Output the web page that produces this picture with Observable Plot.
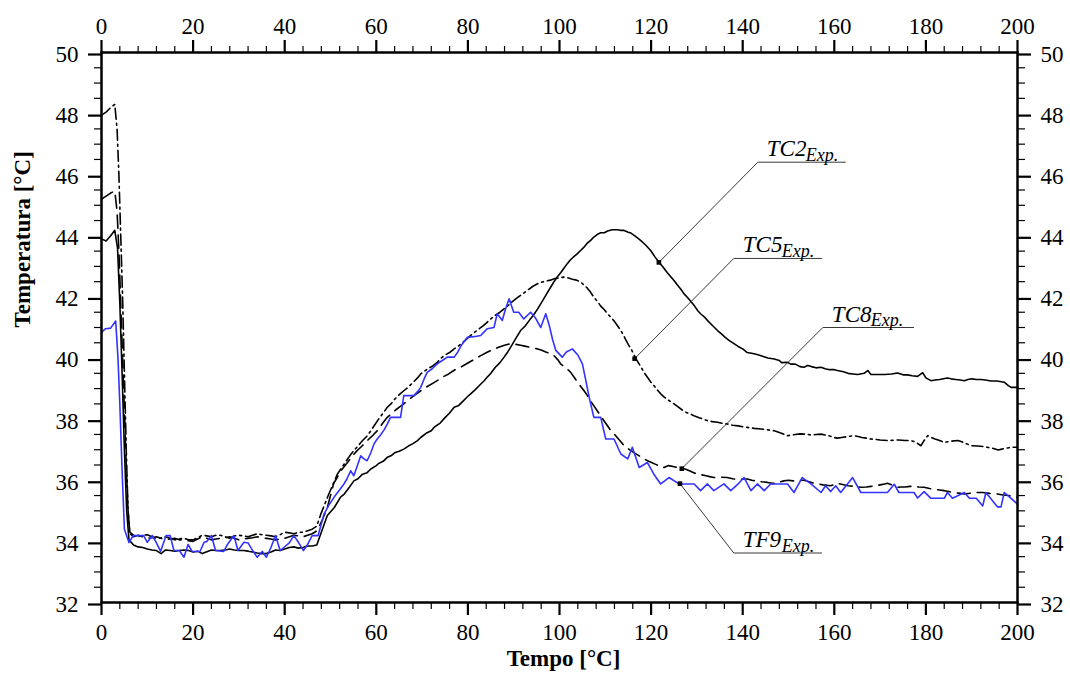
<!DOCTYPE html>
<html><head><meta charset="utf-8">
<script src="https://cdn.jsdelivr.net/npm/d3@7"></script>
<script src="https://cdn.jsdelivr.net/npm/@observablehq/plot@0.6"></script>
<style>body{margin:0;background:#fff}#chart svg{display:block}</style>
</head><body><div id="chart"></div>
<script>
// ---- tick values ----
const xMajor = [0, 20, 40, 60, 80, 100, 120, 140, 160, 180, 200];
const yMajor = [32, 34, 36, 38, 40, 42, 44, 46, 48, 50];
const xMinorStep = 4;
const yMinorStep = 0.5;

// ---- series [tempo, temperatura] ----
const tc2 = [[0,43.9],[1,43.83],[2,44.0],[2.9,44.18],[3.5,43.6],[4,41.8],[4.5,39.5],[5,37.0],[5.5,35.0],[6,34.05],[7,33.88],[8,33.82],[9,33.8],[10,33.75],[11,33.72],[12,33.7],[13,33.6],[14,33.72],[15,33.7],[16,33.68],[17,33.7],[18,33.72],[19,33.7],[20,33.65],[21,33.68],[22,33.6],[23,33.66],[24,33.72],[25,33.7],[26,33.7],[27,33.72],[28,33.75],[29,33.72],[30,33.7],[31,33.7],[32,33.68],[33,33.65],[34,33.62],[35,33.6],[36,33.6],[37,33.65],[38,33.72],[39,33.7],[40,33.75],[41,33.8],[42,33.82],[43,33.78],[44,33.8],[45,33.85],[46,33.85],[47,33.88],[48,34.3],[49.3,34.85],[50.8,35.1],[52.2,35.45],[53,35.55],[54,35.75],[55.1,35.98],[56,36.05],[57,36.2],[58,36.25],[58.8,36.37],[60,36.48],[60.5,36.55],[61.5,36.62],[62.4,36.75],[63.2,36.8],[64,36.9],[65,36.95],[66,37.02],[67,37.12],[68,37.2],[69,37.3],[69.7,37.4],[71,37.55],[72,37.62],[72.6,37.73],[74,37.88],[75,38.05],[76,38.2],[77,38.39],[78,38.45],[79,38.6],[80,38.75],[80.6,38.83],[81.5,38.95],[82.5,39.1],[83.5,39.25],[84.2,39.37],[85,39.5],[86,39.7],[87,39.85],[87.9,40.03],[88.7,40.2],[89.5,40.4],[90.5,40.65],[91.5,40.9],[92.5,41.05],[93.5,41.25],[94.3,41.4],[95.2,41.6],[96,41.8],[97,42.05],[98,42.3],[98.8,42.5],[99.5,42.65],[100.3,42.8],[101,42.95],[101.7,43.09],[102.3,43.2],[103,43.3],[103.8,43.4],[104.6,43.52],[105.3,43.62],[106,43.75],[106.8,43.85],[107.5,43.96],[108.3,44.05],[109,44.1],[109.8,44.1],[110.5,44.16],[111.5,44.2],[112.6,44.2],[113.3,44.18],[114,44.18],[115,44.12],[115.6,44.09],[116.6,43.98],[117.7,43.85],[118.8,43.7],[119.9,43.52],[120.8,43.32],[121.7,43.14],[122.6,42.98],[123.5,42.8],[124.2,42.68],[125,42.54],[125.7,42.4],[126.5,42.25],[127.2,42.1],[127.9,41.99],[128.7,41.85],[129.5,41.7],[130.2,41.55],[130.8,41.45],[131.6,41.35],[132.5,41.2],[133.5,41.05],[134.5,40.9],[135.3,40.8],[136,40.7],[137,40.58],[138.1,40.47],[139,40.38],[140,40.3],[141,40.18],[142.5,40.14],[143.5,40.1],[144.5,40.05],[145.5,40.0],[146.9,39.97],[148,39.92],[148.5,39.85],[149.8,39.86],[150.5,39.8],[151.5,39.8],[152.5,39.72],[153.4,39.7],[154.2,39.76],[155,39.72],[156,39.68],[157.1,39.7],[158,39.65],[159,39.62],[160,39.62],[160.7,39.59],[162,39.55],[163,39.5],[164,39.48],[165.1,39.46],[166.5,39.5],[167.3,39.59],[168,39.46],[169.5,39.46],[171,39.46],[172.5,39.48],[173.8,39.51],[175,39.45],[176,39.45],[177,39.42],[178.2,39.4],[179.3,39.52],[180,39.35],[181.1,39.26],[182,39.28],[183,39.3],[184.7,39.35],[185.5,39.32],[186.5,39.3],[187.5,39.28],[188.4,39.26],[189.2,39.3],[190,39.32],[191,39.3],[192,39.3],[193,39.28],[194.2,39.25],[195.5,39.25],[197.1,39.21],[198,39.1],[198.6,39.04],[200,39.04]];

const tc5 = [[0,47.95],[1,48.05],[2,48.2],[2.9,48.3],[3.4,47.5],[3.8,46.0],[4.2,44.0],[4.6,42.0],[5,39.5],[5.4,37.0],[5.8,35.0],[6.2,34.3],[7,34.2],[8,34.15],[9,34.2],[10,34.22],[11,34.15],[12,34.1],[13,34.12],[14,34.15],[15,34.1],[16,34.05],[17,34.08],[18,34.1],[19,34.05],[20,34.05],[21,34.12],[22,34.2],[23,34.18],[24,34.15],[25,34.2],[26,34.2],[27,34.15],[28,34.1],[29,34.18],[30,34.2],[31,34.18],[32,34.15],[33,34.2],[34,34.25],[35,34.22],[36,34.2],[37,34.18],[38,34.15],[39,34.22],[40,34.3],[41,34.28],[42,34.25],[43,34.3],[44,34.3],[45,34.35],[46,34.4],[47,34.5],[47.9,34.9],[48.7,35.2],[49.5,35.5],[50.5,35.85],[51.5,36.2],[52.4,36.4],[53.3,36.6],[54.2,36.8],[55.1,36.97],[56,37.12],[57,37.3],[58,37.45],[58.8,37.62],[59.6,37.8],[60.5,38.0],[61.5,38.2],[62.4,38.39],[63.2,38.5],[64,38.65],[65,38.8],[66,38.93],[67,39.05],[68,39.2],[69,39.35],[69.7,39.48],[70.6,39.58],[71.5,39.67],[72.4,39.75],[73.3,39.86],[74.2,40.0],[75,40.1],[76,40.18],[77,40.3],[78,40.4],[78.8,40.5],[79.7,40.62],[80.6,40.74],[81.5,40.85],[82.4,40.95],[83.3,41.05],[84.2,41.17],[85,41.28],[86,41.4],[87,41.5],[87.9,41.61],[88.8,41.72],[89.7,41.85],[90.6,41.95],[91.5,42.05],[92.4,42.15],[93.3,42.25],[94.2,42.35],[95.2,42.43],[96,42.48],[97,42.52],[98,42.55],[99,42.6],[100,42.63],[101,42.65],[102,42.62],[102.8,42.58],[103.7,42.55],[104.6,42.49],[105.3,42.4],[106,42.3],[106.8,42.15],[107.5,41.99],[108.3,41.85],[109,41.7],[109.8,41.58],[110.5,41.45],[111.3,41.32],[112,41.2],[112.7,41.05],[113.4,40.9],[114.2,40.68],[115,40.45],[115.8,40.25],[116.5,40.03],[117.2,39.85],[118,39.65],[118.6,39.5],[119.2,39.37],[119.9,39.22],[120.6,39.1],[121.4,38.95],[122.1,38.83],[122.8,38.73],[123.5,38.65],[124.2,38.58],[125,38.5],[125.9,38.4],[126.8,38.3],[127.7,38.22],[128.6,38.17],[129.5,38.1],[130.5,38.05],[131.4,38.0],[132.3,37.95],[133.4,37.92],[134.5,37.9],[135.6,37.86],[136.7,37.84],[137.8,37.8],[139,37.78],[140,37.75],[141,37.73],[142.5,37.7],[144,37.68],[145.5,37.65],[146.9,37.62],[148.3,37.55],[149.8,37.46],[150.7,37.48],[151.5,37.5],[152.5,37.52],[153.4,37.51],[154.2,37.5],[155,37.48],[156,37.5],[157.1,37.51],[158,37.48],[159,37.45],[160,37.4],[160.7,37.38],[161.6,37.4],[162.5,37.42],[163.4,37.44],[164.3,37.46],[165.2,37.43],[166,37.4],[167,37.38],[168,37.35],[169,37.34],[170,37.32],[171.6,37.3],[173,37.31],[174,37.32],[175.5,37.3],[176.7,37.3],[177.8,37.25],[178.9,37.13],[179.6,37.3],[180.4,37.46],[181.2,37.4],[182,37.35],[183,37.3],[184,37.24],[185.5,37.28],[187,37.3],[188,37.25],[188.8,37.2],[190,37.13],[191.3,37.12],[192.8,37.1],[193.7,37.07],[194.5,37.05],[195.8,36.99],[196.6,37.02],[197.5,37.05],[198.7,37.08],[200,37.08]];

const tc8 = [[0,45.2],[1,45.3],[2,45.4],[2.9,45.47],[3.4,44.8],[3.8,43.5],[4.2,41.8],[4.6,40.0],[5,38.3],[5.4,36.5],[5.8,35.0],[6.2,34.25],[7,34.15],[8,34.2],[9,34.15],[10,34.1],[11,34.12],[12,34.15],[13,34.1],[14,34.05],[15,34.08],[16,34.1],[17,34.05],[18,34.05],[19,34.02],[20,34.0],[21,34.08],[22,34.15],[23,34.1],[24,34.05],[25,34.08],[26,34.1],[27,34.12],[28,34.15],[29,34.1],[30,34.05],[31,34.08],[32,34.1],[33,34.12],[34,34.15],[35,34.12],[36,34.1],[37,34.08],[38,34.05],[39,34.08],[40,34.1],[41,34.15],[42,34.2],[43,34.18],[44,34.15],[45,34.2],[46,34.25],[47.1,34.35],[48.2,34.7],[49.3,35.1],[50,35.5],[50.7,35.9],[51.5,36.1],[52.2,36.3],[53,36.45],[53.7,36.58],[54.4,36.72],[55.1,36.85],[55.8,36.97],[56.6,37.08],[57.5,37.22],[58.4,37.35],[59.3,37.48],[60.2,37.62],[61.3,37.85],[62.4,38.06],[63.3,38.18],[64.2,38.3],[65.1,38.4],[66,38.5],[66.9,38.62],[67.8,38.72],[68.7,38.82],[69.7,38.93],[70.6,39.02],[71.5,39.1],[72.4,39.18],[73.3,39.26],[74.5,39.38],[75.8,39.48],[77,39.6],[78.4,39.7],[79.8,39.82],[81.3,39.95],[82.7,40.07],[84.2,40.19],[85.5,40.28],[86.7,40.35],[88,40.42],[89.3,40.47],[90.4,40.45],[91.5,40.42],[92.4,40.39],[93.3,40.36],[94.2,40.33],[95.2,40.3],[96,40.26],[97,40.2],[98,40.15],[98.8,40.08],[99.6,39.95],[100.3,39.8],[101.2,39.7],[102,39.6],[102.6,39.5],[103.2,39.37],[103.9,39.22],[104.6,39.08],[105.4,38.92],[106.1,38.77],[107,38.55],[107.9,38.35],[108.8,38.15],[109.7,37.95],[110.4,37.8],[111.1,37.65],[111.9,37.52],[112.6,37.4],[113.3,37.28],[114,37.15],[114.8,37.05],[115.6,36.97],[116.5,36.88],[117.4,36.8],[118.3,36.72],[119.2,36.64],[120.1,36.58],[121,36.52],[121.9,36.46],[122.8,36.42],[123.8,36.48],[124.8,36.45],[125.8,36.42],[126.8,36.4],[127.7,36.35],[128.5,36.3],[129.3,36.25],[130.1,36.2],[131,36.18],[132,36.15],[132.8,36.12],[133.7,36.09],[135.1,36.1],[136.6,36.09],[137.8,36.05],[139,36.02],[140,36.04],[141,36.04],[142,36.0],[143,35.98],[144.2,35.95],[145.4,35.93],[146.5,35.9],[147.5,35.9],[148.3,35.95],[149,35.98],[150,36.0],[151,35.98],[152.2,36.0],[153.4,36.0],[154.5,35.95],[155.6,35.9],[156.5,35.88],[157.5,35.85],[158.3,35.84],[159.2,35.82],[160,35.86],[160.7,35.9],[161.8,35.86],[163,35.82],[164.5,35.8],[165.8,35.77],[167,35.78],[168,35.8],[169,35.82],[170,35.85],[171,35.88],[171.6,35.9],[172.7,35.84],[173.8,35.77],[174.6,35.78],[175.5,35.78],[176.5,35.8],[177.4,35.8],[178.5,35.78],[179.6,35.77],[180.8,35.73],[182,35.7],[183,35.68],[184,35.66],[185,35.63],[186,35.6],[187.2,35.58],[188.4,35.55],[189.8,35.58],[191.3,35.6],[192.4,35.6],[193.5,35.58],[194.5,35.56],[195.6,35.55],[196.8,35.52],[198,35.5],[199,35.47],[200,35.44]];

const tf9 = [[0,40.84],[0.9,40.96],[2,40.98],[3.1,41.21],[3.6,40.0],[4,38.5],[4.5,36.3],[5,34.4],[6,33.96],[6.9,34.19],[9.2,34.19],[10,33.97],[11.1,34.19],[12,33.95],[12.9,33.67],[14.1,34.19],[15,34.19],[15.8,33.7],[17,33.7],[18,33.48],[18.9,33.9],[19.8,33.67],[21.5,33.67],[22.4,33.97],[23,34.0],[24,34.19],[24.9,33.7],[26.7,33.67],[27.5,33.9],[28.9,34.19],[29.8,33.7],[31.1,33.97],[32,33.95],[33,33.7],[34,33.48],[35.1,33.67],[36,33.48],[37,33.8],[38,34.19],[39,33.7],[39.8,33.8],[41,33.95],[42,34.19],[43,33.97],[44.1,33.7],[45,33.9],[46,34.19],[47.3,34.19],[48.6,34.9],[49.7,35.2],[50.8,35.45],[51.8,35.65],[52.9,35.87],[53.6,36.05],[54.4,36.31],[55.1,36.15],[55.8,36.45],[56.6,36.8],[57.3,36.7],[58,36.64],[58.8,36.9],[59.5,37.19],[60.2,37.35],[61,37.5],[61.7,37.65],[62.4,37.84],[63.1,38.06],[64.2,38.06],[65.3,38.06],[66,38.77],[67.1,38.77],[68.2,38.77],[69,38.9],[69.7,39.04],[70.4,39.3],[71.1,39.53],[72.2,39.65],[73.3,39.81],[74.4,39.92],[75.5,40.03],[77,40.03],[77.8,40.2],[78.5,40.4],[79.9,40.68],[81.3,40.7],[82.8,40.74],[83.5,40.85],[84.2,40.96],[85.7,41.0],[86.4,41.45],[87.5,41.23],[88.2,41.6],[89,41.94],[90,41.5],[91.1,41.5],[92.2,41.28],[93.7,41.5],[94.8,41.3],[95.9,41.0],[97,41.45],[97.8,41.05],[98.5,40.6],[99.2,40.25],[100.6,40.03],[101.5,40.2],[102.8,40.3],[104,40.1],[105,39.81],[105.7,39.3],[106.5,38.7],[107.5,38.06],[109,38.06],[110.1,37.35],[111.9,37.35],[113.4,36.86],[114.9,36.7],[115.9,37.08],[117.4,36.42],[119.2,36.58],[120.6,36.2],[122.1,35.88],[123.9,36.09],[126.1,35.88],[129.4,35.88],[130.8,35.66],[132.3,35.88],[133.7,35.66],[135.9,35.88],[137.4,35.66],[139,35.88],[140.3,36.09],[141.8,35.66],[143.2,35.88],[144.7,35.66],[146.1,35.88],[149.8,35.88],[151.2,35.6],[153,36.09],[154.9,35.88],[157.1,35.6],[158.1,35.82],[159.2,35.63],[160.3,35.82],[161.4,35.6],[164,36.09],[165.8,35.6],[171.6,35.6],[173.1,35.87],[174.1,35.6],[177.4,35.6],[178.2,35.42],[179.6,35.63],[181.1,35.41],[184,35.41],[184.7,35.6],[185.8,35.41],[188.4,35.6],[189.5,35.41],[191,35.41],[192.4,35.16],[193.1,35.6],[195.6,35.13],[196.4,35.13],[197.1,35.6],[198.6,35.41],[200,35.22]];

// ---- annotations (data coordinates) ----
const labelNames = ["TC2", "TC5", "TC8", "TF9"];
const labelSub = "Exp.";
const markerT = [121.7, 116.4, 126.7, 126.3];
const markerV = [43.13, 39.98, 36.38, 35.89];
const labelT = [143.3, 138.05, 157.5, 138.05];
const labelV = [46.41, 43.26, 41.0, 33.62];
const labelEndT = [162.5, 157.3, 177.4, 157.3];

const xTitle = "Tempo [°C]";
const yTitle = "Temperatura [°C]";

// ---- build ----
const xMinor = d3.range(0, 200.001, xMinorStep).filter(v => !xMajor.includes(v));
const yMinor = d3.range(32, 50.001, yMinorStep).filter(v => !yMajor.includes(v));
const ann = labelNames.map((n, i) => ({name: n, mt: markerT[i], mv: markerV[i], lt: labelT[i], lv: labelV[i], le: labelEndT[i]}));
const X = d => d[0], Y = d => d[1];
const serif = "'Liberation Serif', 'Times New Roman', serif";

const chart = Plot.plot({
  width: 1070, height: 673,
  marginLeft: 101, marginRight: 53, marginTop: 52, marginBottom: 71,
  x: {domain: [0, 200]},
  y: {domain: [32, 50]},
  style: {fontFamily: serif, fontSize: "23px", background: "#fff", color: "#000"},
  marks: [
    Plot.axisX(xMinor, {anchor: "bottom", tickSize: 7, strokeWidth: 1.2, text: null, label: null}),
    Plot.axisX(xMinor, {anchor: "top", tickSize: 7, strokeWidth: 1.2, text: null, label: null}),
    Plot.axisY(yMinor, {anchor: "left", tickSize: 7, strokeWidth: 1.2, text: null, label: null}),
    Plot.axisY(yMinor, {anchor: "right", tickSize: 7, strokeWidth: 1.2, text: null, label: null}),
    Plot.axisX(xMajor, {anchor: "bottom", tickSize: 13, tickPadding: 8, strokeWidth: 2.2, fontSize: 23, label: null, tickFormat: d3.format("d")}),
    Plot.axisX(xMajor, {anchor: "top", tickSize: 13, tickPadding: 6, strokeWidth: 2.2, fontSize: 23, label: null, tickFormat: d3.format("d")}),
    Plot.axisY(yMajor, {anchor: "left", tickSize: 13, tickPadding: 10, strokeWidth: 2.2, fontSize: 23, label: null, dy: 2, tickFormat: d3.format("d")}),
    Plot.axisY(yMajor, {anchor: "right", tickSize: 13, tickPadding: 10, strokeWidth: 2.2, fontSize: 23, label: null, dy: 2, tickFormat: d3.format("d")}),
    Plot.line(tc2, {x: X, y: Y, stroke: "#000", strokeWidth: 1.6}),
    Plot.line(tc5, {x: X, y: Y, stroke: "#000", strokeWidth: 1.6, strokeDasharray: "11,4,2,4"}),
    Plot.line(tc8, {x: X, y: Y, stroke: "#000", strokeWidth: 1.6, strokeDasharray: "13,7"}),
    Plot.line(tf9, {x: X, y: Y, stroke: "#3333ff", strokeWidth: 1.6}),
    Plot.frame({stroke: "#000", strokeWidth: 2.5}),
    Plot.link(ann, {x1: "mt", y1: "mv", x2: "lt", y2: "lv", stroke: "#222", strokeWidth: 0.9}),
    Plot.link(ann, {x1: "lt", y1: "lv", x2: "le", y2: "lv", stroke: "#222", strokeWidth: 0.9}),
    Plot.dot(ann, {x: "mt", y: "mv", symbol: "square", r: 2.6, fill: "#000", stroke: "none"}),
    Plot.text(ann, {x: "lt", y: "lv", text: "name", textAnchor: "start", lineAnchor: "bottom", dx: 9, dy: -6, fontSize: 23, fontStyle: "italic"}),
    Plot.text(ann, {x: "lt", y: "lv", text: () => labelSub, textAnchor: "start", lineAnchor: "bottom", dx: 48, dy: -1.5, fontSize: 18, fontStyle: "italic"}),
    Plot.text([xTitle], {frameAnchor: "bottom", dx: 4, dy: 63, lineAnchor: "bottom", fontWeight: "bold", fontSize: 23}),
    Plot.text([yTitle], {frameAnchor: "left", dx: -79, rotate: -90, fontWeight: "bold", fontSize: 23})
  ]
});
document.getElementById("chart").append(chart);
</script>
</body></html>
